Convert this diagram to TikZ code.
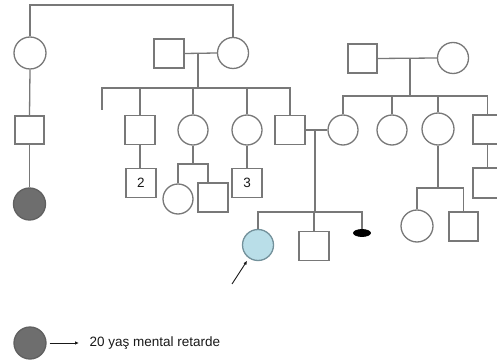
\documentclass[tikz,border=0pt]{standalone}
\usepackage{fontspec}
\setmainfont{Liberation Sans}
\usetikzlibrary{arrows.meta,shapes.geometric}
\definecolor{ln}{RGB}{120,120,120}
\definecolor{aff}{RGB}{110,110,110}
\definecolor{prob}{RGB}{185,222,232}
\definecolor{txt}{RGB}{25,25,25}
\tikzset{
  fem/.style={circle, draw=ln, line width=1.3pt, fill=white, inner sep=0pt, minimum size=#1},
  fem/.default=30pt,
  mal/.style={rectangle, draw=ln, line width=1.3pt, fill=white, inner sep=0pt, minimum width=30pt, minimum height=29pt, font=\fontsize{13.5}{14}\selectfont, text=txt},
  affected/.style={fem=32pt, fill=aff, draw=ln!80!black},
  proband/.style={fem=31pt, fill=prob, draw={rgb,255:red,115;green,145;blue,155}},
  loss/.style={ellipse, fill=black, draw=black, line width=0.8pt, inner sep=0pt, minimum width=17pt, minimum height=7pt},
  ptr/.style={draw=txt, line width=0.9pt, -{Latex[length=4pt,width=3.5pt]}}
}
\begin{document}
\begin{tikzpicture}[x=1pt,y=-1pt,line width=1.3pt,color=ln]
\useasboundingbox (0,0) rectangle (497,363);
\fill[white] (0,0) rectangle (497,363);
% generation I
\node[fem=32pt] (gA) at (30,53) {};
\node[mal] (gC) at (169,53.5) {};
\node[fem=31pt] (gB) at (233,53) {};
\node[mal, minimum width=29pt] (gD) at (362.5,58.5) {};
\node[fem=31pt] (gE) at (453,58) {};
% generation II
\node[mal, minimum width=29pt, minimum height=28pt] (L1) at (29.5,130) {};
\node[affected] (L2) at (29.5,204) {};
\node[mal] (s1) at (140,130) {};
\node[fem] (s2) at (193,130) {};
\node[fem] (s3) at (247,130) {};
\node[mal] (s4) at (290,130) {};
\node[fem] (w) at (343,130) {};
\node[fem] (r2) at (392,130) {};
\node[fem=32pt] (r3) at (438,129) {};
\node[mal, minimum width=29pt] (r4) at (487.5,129.5) {};
\node[mal, minimum width=29pt, minimum height=30pt] (r5) at (487.5,183) {};
% generation III
\node[mal] (n2) at (141,183) {2};
\node[fem] (c1) at (178,199) {};
\node[mal] (c2) at (213,197.5) {};
\node[mal] (n3) at (247,183) {3};
\node[fem=32pt] (k1) at (417,226) {};
\node[mal, minimum width=29pt] (k2) at (463.5,226.5) {};
% generation IV
\node[proband] (p) at (258,245) {};
\node[mal] (q) at (314,246) {};
\node[loss] (e) at (362,233) {};
% legend
\node[affected] (lg) at (30,343) {};
\node[anchor=west, text=txt, inner sep=0pt, font=\fontsize{13.5}{14}\selectfont] (lt) at (89,343.5) {20 yaş mental retarde};
% coordinates
\coordinate (topy) at (0,5);
\coordinate (m1) at (198,53);
\coordinate (b1) at (198,88);
\coordinate (e1) at (102,110);
\coordinate (b1l) at (102,88);
\coordinate (b3l) at (178,164);
\coordinate (b3r) at (208,164);
\coordinate (m2) at (315,130);
\coordinate (b2) at (315,212);
\coordinate (b2l) at (258,212);
\coordinate (b2r) at (362,212);
\coordinate (m3) at (410,58);
\coordinate (b4) at (410,96);
\coordinate (b4l) at (343,96);
\coordinate (b4r) at (487.5,96);
\coordinate (b5l) at (417,188);
\coordinate (b5r) at (463.5,188);
\coordinate (ar) at (232,284);
\coordinate (la) at (79,343);
% connectors
\draw (gA.north) -- (gA.north |- topy) -| (gB.north);
\draw (gA.south) -- (L1.north);
\draw (L1.south) -- (L2.north);
\draw (gC.east) -- (gB.west);
\draw (m1) -- (b1);
\draw (e1) -- (b1l) -| (s4.north);
\draw (s1.north) -- (s1.north |- b1);
\draw (s2.north) -- (s2.north |- b1);
\draw (s3.north) -- (s3.north |- b1);
\draw (s1.south) -- (s1.south |- n2.north);
\draw (s3.south) -- (n3.north);
\draw (s2.south) -- (s2.south |- b3l);
\draw (c1.north) -- (b3l) -- (b3r) -- (b3r |- c2.north);
\draw (s4.east) -- (w.west);
\draw (m2) -- (b2);
\draw (p.north) -- (b2l) -- (b2r) -- (e.north);
\draw (q.north) -- (q.north |- b2);
\draw (gD.east) -- (gE.west);
\draw (m3) -- (b4);
\draw (w.north) -- (b4l) -- (b4r) -- (r4.north);
\draw (r2.north) -- (r2.north |- b4);
\draw (r3.north) -- (r3.north |- b4);
\draw (r3.south) -- (r3.south |- b5l);
\draw (k1.north) -- (b5l) -- (b5r) -- (k2.north);
\draw (r4.south) -- (r5.north);
\draw[ptr, shorten >=3pt] (ar) -- (p.235);
\draw[ptr, shorten <=3pt] (lg.east) -- (la);
\end{tikzpicture}
\end{document}
